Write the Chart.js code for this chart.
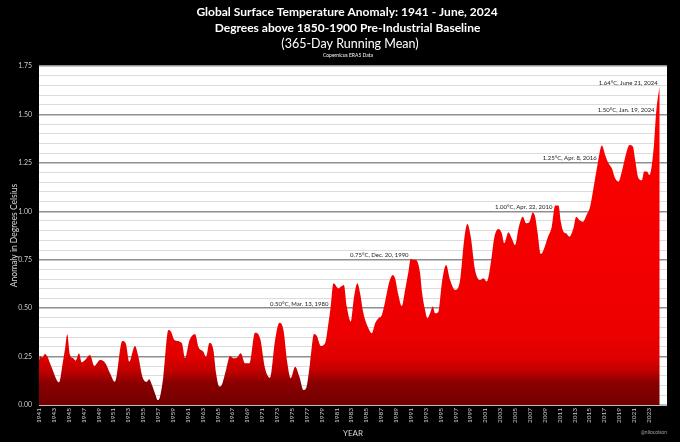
<!DOCTYPE html>
<html>
<head>
<meta charset="utf-8">
<script src="https://cdn.jsdelivr.net/npm/chart.js@4.4.1/dist/chart.umd.min.js"></script>
<style>
html,body{margin:0;padding:0;background:#000;}
#wrap{width:680px;height:442px;}
canvas{display:block;}
</style>
</head>
<body>
<div id="wrap"><canvas id="c" width="680" height="442"></canvas></div>
<script>
// ---- Data (decimal year, anomaly in °C) ----
const years = [
  1941.0,1941.13,1941.45,1941.8,1942.17,1942.48,1942.93,1943.38,1943.69,1944.2,1944.5,1944.8,
  1945.17,1945.6,1945.93,1946.38,1946.74,1947.19,1947.86,1948.44,1949.2,1949.88,1950.55,1951.2,
  1952.2,1952.66,1953.15,1953.9,1954.36,1954.9,1955.5,1955.8,1956.24,1956.6,1956.97,1957.28,
  1957.72,1958.4,1958.76,1959.2,1960.2,1960.64,1961.2,1961.7,1962.0,1962.43,1963.1,1963.46,
  1963.91,1964.45,1964.81,1965.26,1965.57,1966.15,1966.69,1967.14,1967.59,1968.13,1968.71,1969.29,
  1970.05,1970.73,1971.4,1972.07,1972.75,1973.33,1973.87,1974.4,1974.85,1975.44,1976.02,1976.56,
  1976.92,1977.45,1977.99,1978.35,1978.89,1979.47,1979.92,1980.2,1980.6,1981.27,1981.58,1982.0,
  1982.39,1982.93,1983.37,1983.82,1984.18,1984.63,1985.3,1985.75,1986.2,1986.65,1987.1,1987.54,
  1988.12,1988.57,1988.88,1989.33,1989.78,1990.23,1990.68,1990.99,1991.26,1991.71,1992.25,1992.47,
  1992.92,1993.23,1993.59,1993.95,1994.26,1994.71,1994.93,1995.17,1995.75,1996.28,1996.96,1997.63,
  1998.17,1998.61,1999.06,1999.64,2000.32,2000.77,2001.21,2001.88,2002.2,2002.79,2003.23,2003.55,
  2004.13,2004.58,2005.03,2005.48,2006.06,2006.51,2006.95,2007.4,2007.72,2008.03,2008.5,2008.85,
  2009.38,2009.96,2010.41,2010.86,2011.17,2011.53,2011.89,2012.33,2012.87,2013.23,2013.68,2014.13,
  2014.67,2015.11,2015.56,2016.1,2016.69,2017.13,2017.58,2018.03,2018.48,2018.93,2019.38,2019.96,
  2020.41,2020.86,2021.17,2021.62,2022.07,2022.38,2022.74,2023.1,2023.41,2023.73,2024.0,2024.45,
  2024.47
];
const anomalies = [
  0.230,0.253,0.245,0.263,0.246,0.215,0.172,0.129,0.117,0.220,0.290,0.365,
  0.258,0.241,0.229,0.267,0.220,0.232,0.258,0.201,0.232,0.218,0.164,0.120,
  0.330,0.319,0.224,0.305,0.250,0.146,0.120,0.133,0.098,0.060,0.026,0.043,
  0.146,0.387,0.378,0.336,0.320,0.241,0.330,0.362,0.365,0.301,0.275,0.249,
  0.320,0.284,0.164,0.095,0.103,0.181,0.253,0.241,0.243,0.267,0.215,0.215,
  0.373,0.344,0.189,0.141,0.336,0.425,0.387,0.215,0.138,0.198,0.146,0.077,
  0.086,0.215,0.367,0.357,0.305,0.319,0.422,0.500,0.628,0.602,0.610,0.620,
  0.508,0.430,0.559,0.628,0.577,0.473,0.396,0.370,0.422,0.448,0.465,0.533,
  0.637,0.671,0.654,0.568,0.511,0.594,0.688,0.755,0.750,0.749,0.680,0.594,
  0.490,0.448,0.473,0.508,0.473,0.480,0.542,0.628,0.723,0.645,0.594,0.645,
  0.852,0.934,0.869,0.697,0.645,0.654,0.637,0.766,0.860,0.909,0.886,0.835,
  0.892,0.860,0.826,0.912,0.972,0.938,0.946,0.994,0.972,0.895,0.780,0.800,
  0.861,0.921,1.030,1.030,0.946,0.895,0.886,0.869,0.912,0.972,0.955,0.946,
  0.984,1.024,1.119,1.239,1.339,1.291,1.248,1.222,1.170,1.153,1.205,1.299,
  1.342,1.334,1.265,1.170,1.160,1.205,1.205,1.187,1.239,1.359,1.514,1.638,
  1.640
];
const xTickYears = [1941,1943,1945,1947,1949,1951,1953,1955,1957,1959,1961,1963,1965,1967,1969,
  1971,1973,1975,1977,1979,1981,1983,1985,1987,1989,1991,1993,1995,1997,1999,2001,2003,2005,
  2007,2009,2011,2013,2015,2017,2019,2021,2023];
const yGridValues = [0.00,0.05,0.10,0.15,0.20,0.25,0.30,0.35,0.40,0.45,0.50,0.55,0.60,0.65,0.70,
  0.75,0.80,0.85,0.90,0.95,1.00,1.05,1.10,1.15,1.20,1.25,1.30,1.35,1.40,1.45,1.50,1.55,1.60,1.65,1.70,1.75];
const yLabelValues = [0.00,0.25,0.50,0.75,1.00,1.25,1.50,1.75];
const annotationLabels = ["0.50°C, Mar. 13, 1980","0.75°C, Dec. 20, 1990","1.00°C, Apr. 22, 2010",
  "1.25°C, Apr. 8, 2016","1.50°C, Jan. 19, 2024","1.64°C, June 21, 2024"];
const annotationYears = [1980.2, 1990.97, 2010.31, 2016.27, 2024.05, 2024.47];
const annotationValues = [0.50, 0.75, 1.00, 1.25, 1.50, 1.64];
const titleLines = ["Global Surface Temperature Anomaly: 1941 - June, 2024",
  "Degrees above 1850-1900 Pre-Industrial Baseline"];
const subtitleText = "(365-Day Running Mean)";
const sourceText = "Copernicus ERA5 Data";
const creditText = "@nilocolson";
const yAxisTitle = "Anomaly in Degrees Celsius";
const xAxisTitle = "YEAR";

// ---- Chart ----
const FONT = "Lato, 'Open Sans', sans-serif";
const points = years.map((x, i) => ({x: x, y: anomalies[i]}));
const isMajor = v => yLabelValues.some(m => Math.abs(m - v) < 1e-6);

const bgPlugin = {
  id: 'bg',
  beforeDraw(chart) {
    const c = chart.ctx, a = chart.chartArea;
    c.save();
    c.fillStyle = '#000';
    c.fillRect(0, 0, chart.width, chart.height);
    c.fillStyle = '#fff';
    c.fillRect(a.left, a.top, a.right - a.left, a.bottom - a.top);
    c.restore();
  }
};

const textPlugin = {
  id: 'texts',
  afterDatasetsDraw(chart) {
    const c = chart.ctx, xs = chart.scales.x, ys = chart.scales.y;
    c.save();
    c.fillStyle = '#1a1a1a';
    c.font = "6px " + FONT;
    c.textAlign = 'right';
    c.textBaseline = 'alphabetic';
    annotationLabels.forEach((t, i) => {
      c.fillText(t, xs.getPixelForValue(annotationYears[i]) - 2, ys.getPixelForValue(annotationValues[i]) - 2.5);
    });
    c.restore();
  },
  afterDraw(chart) {
    const c = chart.ctx;
    c.save();
    c.fillStyle = '#fff';
    c.textAlign = 'center';
    c.textBaseline = 'middle';
    c.font = "bold 12px " + FONT;
    c.fillText(titleLines[0], 347, 12.5);
    c.fillText(titleLines[1], 347.5, 28);
    c.font = "12.5px " + FONT;
    c.fillText(subtitleText, 350, 43.5);
    c.font = "5px " + FONT;
    c.fillText(sourceText, 348, 55.5);
    c.fillStyle = '#a0a0a0';
    c.textAlign = 'right';
    c.fillText(creditText, 667, 432);
    c.restore();
  }
};

new Chart(document.getElementById('c').getContext('2d'), {
  type: 'line',
  data: {
    datasets: [{
      data: points,
      fill: 'origin',
      borderWidth: 0,
      borderColor: 'rgba(0,0,0,0)',
      pointRadius: 0,
      cubicInterpolationMode: 'monotone',
      backgroundColor: (ctx) => {
        const chart = ctx.chart;
        if (!chart.chartArea) return '#e00000';
        const ys = chart.scales.y;
        const g = chart.ctx.createLinearGradient(0, ys.getPixelForValue(0), 0, ys.getPixelForValue(1.75));
        g.addColorStop(0.00, '#720000');
        g.addColorStop(0.065, '#8a0000');
        g.addColorStop(0.10, '#c00000');
        g.addColorStop(0.14, '#e00000');
        g.addColorStop(0.22, '#ee0000');
        g.addColorStop(1.00, '#ff0000');
        return g;
      }
    }]
  },
  options: {
    responsive: false,
    animation: false,
    events: [],
    layout: {padding: {top: 66, right: 13, bottom: 3, left: 0}},
    plugins: {legend: {display: false}, tooltip: {enabled: false}, title: {display: false}},
    scales: {
      x: {
        type: 'linear',
        min: 1941,
        max: 2025.45,
        afterBuildTicks: s => { s.ticks = xTickYears.map(v => ({value: v})); },
        afterFit: s => { s.height = 34; },
        grid: {display: false, drawTicks: false},
        border: {display: false},
        ticks: {
          color: '#cccccc', font: {family: FONT, size: 6.5},
          minRotation: 90, maxRotation: 90, autoSkip: false, padding: 3,
          callback: v => String(v)
        },
        title: {display: true, text: xAxisTitle, color: '#d9d9d9', font: {family: FONT, size: 8}, padding: {top: 0, bottom: 1}}
      },
      y: {
        min: 0,
        max: 1.75,
        afterBuildTicks: s => { s.ticks = yGridValues.map(v => ({value: v})); },
        afterFit: s => { s.width = 39; },
        grid: {
          drawTicks: false,
          color: c => (c.tick && Math.abs(c.tick.value) < 1e-6) ? '#bdbdbd' : (c.tick && isMajor(c.tick.value) ? '#8f8f8f' : '#dcdcdc'),
          lineWidth: c => (c.tick && Math.abs(c.tick.value) < 1e-6) ? 2 : (c.tick && isMajor(c.tick.value) ? 1.5 : 1)
        },
        border: {display: false},
        ticks: {
          color: '#cccccc', font: {family: FONT, size: 7}, padding: 7, autoSkip: false,
          callback: v => isMajor(v) ? v.toFixed(2) : ''
        },
        title: {display: true, text: yAxisTitle, color: '#d9d9d9', font: {family: FONT, size: 8.5}, padding: {top: 9, bottom: 0}}
      }
    }
  },
  plugins: [bgPlugin, textPlugin]
});
</script>
</body>
</html>
